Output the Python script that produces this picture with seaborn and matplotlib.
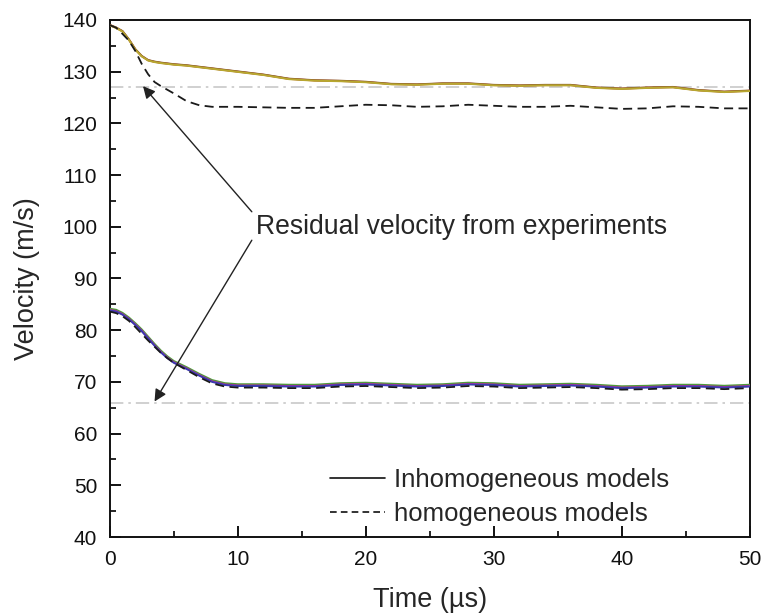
import numpy as np
import pandas as pd
import matplotlib
matplotlib.use("Agg")
import matplotlib.pyplot as plt
from matplotlib.lines import Line2D
from matplotlib.ticker import MultipleLocator
import seaborn as sns

sns.set_style("ticks")
plt.rcParams['font.family'] = ['Liberation Sans', 'DejaVu Sans']

time = [0, 0.5, 1, 1.5, 2, 2.5, 3, 3.5, 4, 4.5, 5, 6, 7, 8, 9, 10, 12, 14, 16, 18, 20,
        22, 24, 26, 28, 30, 32, 34, 36, 38, 40, 42, 44, 46, 48, 50]

# upper case (high impact velocity)
upper_inhomo = [139.0, 138.5, 137.8, 136.2, 134.3, 133.0, 132.2, 131.9, 131.7, 131.55, 131.4,
                131.2, 130.9, 130.6, 130.3, 130.0, 129.4, 128.6, 128.3, 128.2, 128.0,
                127.6, 127.5, 127.7, 127.7, 127.4, 127.3, 127.4, 127.4, 126.9, 126.7,
                126.9, 127.0, 126.4, 126.1, 126.3]
upper_homo = [139.0, 138.5, 137.3, 136.0, 134.0, 131.5, 129.5, 128.0, 127.2, 126.5, 125.8,
              124.3, 123.5, 123.2, 123.2, 123.2, 123.1, 123.0, 123.0, 123.3, 123.6,
              123.5, 123.2, 123.3, 123.6, 123.4, 123.2, 123.2, 123.4, 123.1, 122.8,
              122.9, 123.3, 123.2, 122.9, 122.9]

# lower case (low impact velocity)
lower_inhomo = [84.0, 83.8, 83.2, 82.3, 81.2, 80.0, 78.6, 77.2, 75.9, 74.8, 73.9,
                72.7, 71.4, 70.2, 69.6, 69.4, 69.4, 69.3, 69.3, 69.6, 69.7,
                69.5, 69.3, 69.4, 69.7, 69.6, 69.3, 69.4, 69.5, 69.3, 69.0,
                69.1, 69.3, 69.3, 69.1, 69.3]
lower_homo = [83.6, 83.3, 82.7, 81.8, 80.6, 79.3, 78.0, 76.8, 75.6, 74.6, 73.7,
              72.3, 70.9, 69.7, 69.1, 68.9, 68.9, 68.8, 68.8, 69.1, 69.2,
              69.0, 68.8, 68.9, 69.2, 69.1, 68.8, 68.9, 69.0, 68.8, 68.5,
              68.6, 68.8, 68.8, 68.6, 68.8]

exp_residual = [127, 66]

fig = plt.figure(figsize=(7.62, 6.14), dpi=100)
ax = fig.add_axes([0.144, 0.1254, 0.840, 0.8421])

# reference lines from experiments
for v in exp_residual:
    ax.axhline(v, color='#c8c8c8', lw=1.2, ls=(0, (8, 3, 1.5, 3)), zorder=1)

t = np.array(time)
up = np.array(upper_inhomo)
lo = np.array(lower_inhomo)
# several overlapping inhomogeneous realisations
for off, c in [(0.0, '#c0392b'), (0.05, '#8b5a2b'), (-0.05, '#b8a830')]:
    sns.lineplot(x=t, y=up + off, color=c, lw=1.4, ax=ax, zorder=3)
for off, c in [(0.15, '#4f9a3a'), (-0.1, '#c42a9a'), (-0.2, '#3a3ab0')]:
    sns.lineplot(x=t, y=lo + off, color=c, lw=1.4, ax=ax, zorder=3)

sns.lineplot(x=t, y=upper_homo, color='#1a1a1a', lw=1.3, ls=(0, (5, 3)), ax=ax, zorder=4)
sns.lineplot(x=t, y=lower_homo, color='#1a1a1a', lw=1.3, ls=(0, (5, 3)), ax=ax, zorder=4)

ax.set_xlim(0, 50)
ax.set_ylim(40, 140)
ax.xaxis.set_major_locator(MultipleLocator(10))
ax.xaxis.set_minor_locator(MultipleLocator(5))
ax.yaxis.set_major_locator(MultipleLocator(10))
ax.yaxis.set_minor_locator(MultipleLocator(5))
ax.tick_params(which='major', direction='in', length=8, width=1.4, labelsize=15,
               top=False, right=False, colors='#111111')
ax.tick_params(axis='x', which='major', pad=9)
ax.tick_params(axis='y', which='major', pad=9)
ax.tick_params(which='minor', direction='in', length=4, width=1.4, top=False, right=False)
for s in ax.spines.values():
    s.set_linewidth(1.4)
    s.set_color('#111111')

ax.set_xlabel('Time (µs)', fontsize=19.5, labelpad=13)
ax.set_ylabel('Velocity (m/s)', fontsize=19.5, labelpad=16)

# annotation
ax.text(11.4, 100, 'Residual velocity from experiments', fontsize=19.1, va='center', ha='left')
ap = dict(arrowstyle='-|>', color='#222222', lw=1.0, mutation_scale=18, shrinkA=0, shrinkB=0)
ax.annotate('', xy=(2.6, 127.2), xytext=(11.1, 102.9), arrowprops=ap)
ax.annotate('', xy=(3.5, 66.2), xytext=(11.1, 97.4), arrowprops=ap)

handles = [Line2D([], [], color='#111111', lw=1.2),
           Line2D([], [], color='#111111', lw=1.2, ls=(0, (4, 2.5)))]
ax.legend(handles, ['Inhomogeneous models', 'homogeneous models'], loc='lower left',
          bbox_to_anchor=(0.308, -0.024), frameon=False, fontsize=18.5, handlelength=2.15,
          handletextpad=0.35, labelspacing=0.4)

fig.savefig('out.png', dpi=100)
